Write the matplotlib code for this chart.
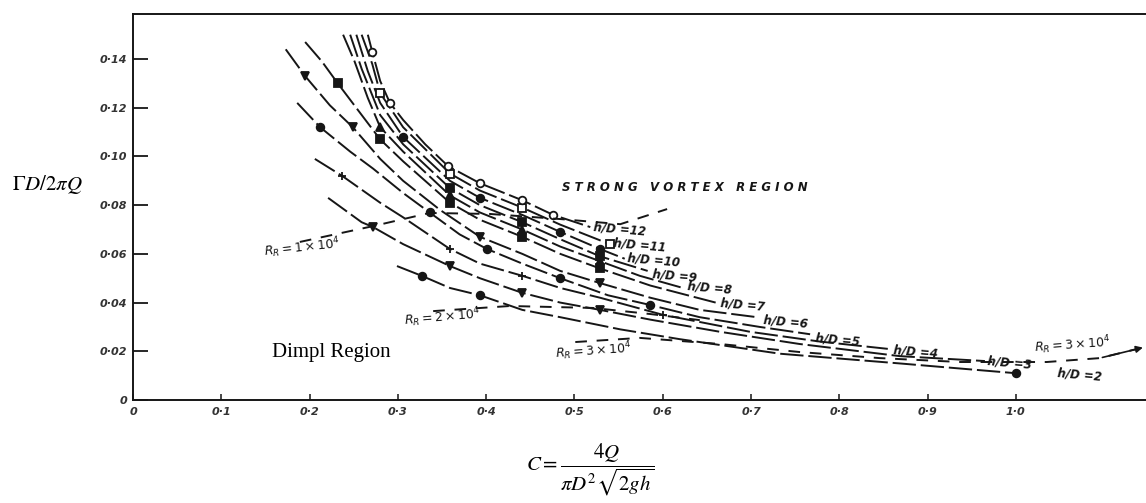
import numpy as np
import matplotlib.pyplot as plt

plt.rcParams['mathtext.fontset'] = 'stix'

# axis ticks
x_ticks = [0, 0.1, 0.2, 0.3, 0.4, 0.5, 0.6, 0.7, 0.8, 0.9, 1.0]
x_tick_labels = ['0', '0·1', '0·2', '0·3', '0·4', '0·5', '0·6', '0·7', '0·8', '0·9', '1·0']
y_ticks = [0, 0.02, 0.04, 0.06, 0.08, 0.10, 0.12, 0.14]
y_tick_labels = ['0', '0·02', '0·04', '0·06', '0·08', '0·10', '0·12', '0·14']

# h/D curves
hd2_x = [0.299, 0.327, 0.359, 0.393, 0.441, 0.484, 0.552, 0.619, 0.733, 0.869, 1.000]
hd2_y = [0.055, 0.051, 0.046, 0.043, 0.037, 0.034, 0.029, 0.025, 0.019, 0.015, 0.011]
hd3_x = [0.221, 0.259, 0.272, 0.306, 0.359, 0.393, 0.441, 0.484, 0.529, 0.586, 0.665, 0.755, 0.869, 0.965]
hd3_y = [0.083, 0.073, 0.071, 0.064, 0.055, 0.050, 0.044, 0.040, 0.037, 0.033, 0.028, 0.023, 0.018, 0.016]
hd4_x = [0.206, 0.237, 0.280, 0.306, 0.359, 0.393, 0.441, 0.484, 0.529, 0.600, 0.699, 0.778, 0.855]
hd4_y = [0.099, 0.092, 0.081, 0.075, 0.062, 0.056, 0.051, 0.046, 0.042, 0.035, 0.028, 0.024, 0.021]
hd5_x = [0.186, 0.212, 0.246, 0.272, 0.306, 0.336, 0.370, 0.401, 0.441, 0.484, 0.538, 0.586, 0.642, 0.710, 0.767]
hd5_y = [0.122, 0.112, 0.102, 0.095, 0.085, 0.077, 0.068, 0.062, 0.056, 0.050, 0.043, 0.039, 0.034, 0.030, 0.027]
hd6_x = [0.173, 0.195, 0.223, 0.249, 0.280, 0.306, 0.348, 0.393, 0.441, 0.484, 0.529, 0.586, 0.642, 0.707]
hd6_y = [0.144, 0.133, 0.121, 0.112, 0.099, 0.090, 0.078, 0.067, 0.060, 0.053, 0.048, 0.042, 0.037, 0.034]
hd7_x = [0.195, 0.214, 0.232, 0.257, 0.280, 0.306, 0.359, 0.393, 0.441, 0.484, 0.529, 0.586, 0.660]
hd7_y = [0.147, 0.139, 0.130, 0.118, 0.107, 0.098, 0.081, 0.074, 0.067, 0.060, 0.054, 0.047, 0.040]
hd8_x = [0.238, 0.251, 0.266, 0.280, 0.306, 0.359, 0.393, 0.441, 0.484, 0.529, 0.574, 0.623]
hd8_y = [0.150, 0.139, 0.124, 0.112, 0.102, 0.084, 0.077, 0.070, 0.063, 0.057, 0.051, 0.046]
hd9_x = [0.246, 0.259, 0.280, 0.306, 0.359, 0.393, 0.441, 0.484, 0.529, 0.583]
hd9_y = [0.150, 0.136, 0.117, 0.105, 0.087, 0.080, 0.073, 0.066, 0.059, 0.053]
hd10_x = [0.253, 0.266, 0.280, 0.306, 0.359, 0.393, 0.441, 0.484, 0.529, 0.557]
hd10_y = [0.150, 0.135, 0.122, 0.108, 0.090, 0.083, 0.076, 0.069, 0.062, 0.058]
hd11_x = [0.259, 0.271, 0.280, 0.306, 0.359, 0.393, 0.441, 0.484, 0.540]
hd11_y = [0.150, 0.138, 0.126, 0.112, 0.093, 0.086, 0.079, 0.072, 0.064]
hd12_x = [0.266, 0.271, 0.280, 0.291, 0.306, 0.331, 0.357, 0.393, 0.441, 0.476, 0.518]
hd12_y = [0.150, 0.143, 0.131, 0.122, 0.115, 0.105, 0.096, 0.089, 0.082, 0.076, 0.071]

# constant Reynolds number lines
rr1_x = [0.189, 0.272, 0.336, 0.404, 0.484, 0.552, 0.605]
rr1_y = [0.0649, 0.0714, 0.0768, 0.0764, 0.0743, 0.0722, 0.0784]
rr2_x = [0.340, 0.427, 0.521, 0.586, 0.642]
rr2_y = [0.0365, 0.0386, 0.0378, 0.0353, 0.0328]
rr3_x = [0.501, 0.574, 0.665, 0.755, 0.846, 0.937, 1.035, 1.095, 1.147]
rr3_y = [0.0238, 0.0255, 0.0230, 0.0197, 0.0172, 0.0156, 0.0156, 0.0172, 0.0218]

hd_labels = ['h/D =2', 'h/D =3', 'h/D =4', 'h/D =5', 'h/D =6', 'h/D =7',
             'h/D =8', 'h/D =9', 'h/D =10', 'h/D =11', 'h/D =12']
hd_label_x = [1.046, 0.967, 0.861, 0.772, 0.713, 0.665, 0.627, 0.588, 0.559, 0.544, 0.521]
hd_label_y = [0.0103, 0.0152, 0.0197, 0.0246, 0.032, 0.039, 0.046, 0.051, 0.0575, 0.0636, 0.070]

ink = '#161616'
fig = plt.figure(figsize=(11.46, 5.03), dpi=100)
ax = fig.add_axes([133 / 1146, 103 / 503, (1150 - 133) / 1146, (400 - 14) / 503])

curves = [
    (hd2_x, hd2_y, 'o', ink, [1, 3, 10]),
    (hd3_x, hd3_y, 'v', ink, [2, 4, 6, 8]),
    (hd4_x, hd4_y, '+', ink, [1, 4, 6, 9]),
    (hd5_x, hd5_y, 'o', ink, [1, 5, 7, 9, 11]),
    (hd6_x, hd6_y, 'v', ink, [1, 3, 7, 10]),
    (hd7_x, hd7_y, 's', ink, [2, 4, 6, 8, 10]),
    (hd8_x, hd8_y, '^', ink, [3, 5, 7, 9]),
    (hd9_x, hd9_y, 's', ink, [4, 6, 8]),
    (hd10_x, hd10_y, 'o', ink, [3, 5, 7, 8]),
    (hd11_x, hd11_y, 's', 'white', [2, 4, 6, 8]),
    (hd12_x, hd12_y, 'o', 'white', [1, 3, 6, 7, 8, 9]),
]
for xs, ys, mk, fc, idx in curves:
    ax.plot(xs, ys, color=ink, lw=1.4, ls=(0, (12, 2.5)), marker=mk, markevery=idx,
            markersize=5.5, markerfacecolor=fc, markeredgecolor=ink, markeredgewidth=1.3)

for xs, ys in [(rr1_x, rr1_y), (rr2_x, rr2_y), (rr3_x, rr3_y)]:
    ax.plot(xs, ys, color=ink, lw=1.4, ls=(0, (6, 5)), clip_on=False)
ax.annotate('', xy=(rr3_x[-1], rr3_y[-1]), xytext=(rr3_x[-2], rr3_y[-2]),
            arrowprops=dict(arrowstyle='-|>', color=ink, lw=1.2), annotation_clip=False)

lab_font = dict(fontsize=8.5, fontstyle='italic', fontweight='bold', color=ink)
for t, lx, ly in zip(hd_labels, hd_label_x, hd_label_y):
    ax.text(lx, ly, t, ha='left', va='center', rotation=-5, **lab_font)

rr_font = dict(fontsize=9, color=ink, math_fontfamily='dejavusans')
ax.text(0.147, 0.0625, r'$R_R = 1\times10^4$', ha='left', va='center', rotation=6, **rr_font)
ax.text(0.306, 0.034, r'$R_R = 2\times10^4$', ha='left', va='center', rotation=5, **rr_font)
ax.text(0.478, 0.020, r'$R_R = 3\times10^4$', ha='left', va='center', rotation=4, **rr_font)
ax.text(1.020, 0.0225, r'$R_R = 3\times10^4$', ha='left', va='center', rotation=4, **rr_font)

ax.text(0.625, 0.0874, 'S T R O N G   V O R T E X   R E G I O N', ha='center', va='center',
        fontsize=8.5, fontstyle='italic', fontweight='bold', color=ink)
ax.text(0.225, 0.0197, 'Dimpl Region', ha='center', va='center', fontsize=15,
        family='Liberation Serif', color='black')

ax.set_xlim(0, 1.152)
ax.set_ylim(0, 0.1585)
ax.set_xticks(x_ticks)
ax.set_xticklabels(x_tick_labels)
ax.set_yticks(y_ticks)
ax.set_yticklabels(y_tick_labels)
for lbl in ax.get_xticklabels() + ax.get_yticklabels():
    lbl.set_fontstyle('italic')
    lbl.set_fontweight('bold')
    lbl.set_fontsize(8)
    lbl.set_color('#333333')
ax.tick_params(axis='y', direction='in', length=11, width=1.3, pad=4, color=ink)
ax.tick_params(axis='x', direction='in', length=4, width=1.1, pad=5, color=ink)
ax.spines['right'].set_visible(False)
for s in ['left', 'bottom', 'top']:
    ax.spines[s].set_linewidth(1.4)
    ax.spines[s].set_color(ink)

fig.text(47 / 1146, 1 - 185 / 503, r'$\Gamma D/2\pi Q$', ha='center', va='center', fontsize=15)
fig.text(590 / 1146, 1 - 470 / 503, r'$C=\dfrac{4Q}{\pi D^2\sqrt{2gh}}$', ha='center', va='center',
         fontsize=15)

fig.savefig('out.png', dpi=100, facecolor='white')
